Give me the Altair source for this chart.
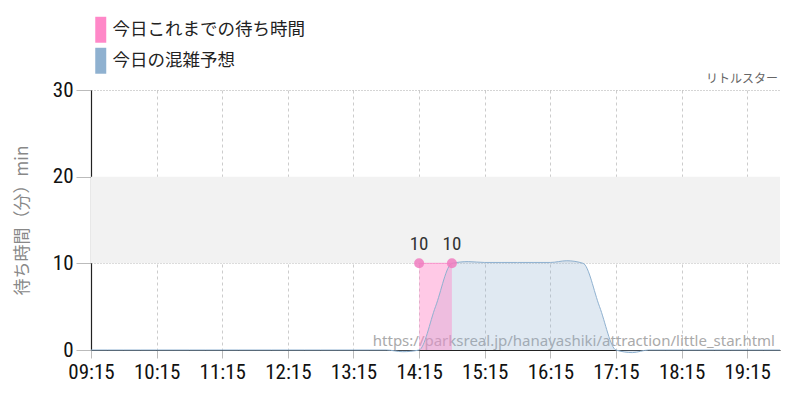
import altair as alt
import pandas as pd

DAY = "2024-01-01T"

legend_labels = ["今日これまでの待ち時間", "今日の混雑予想"]
legend_colors = ["#ff88c8", "#8fb1d0"]
fill_opacities = [0.45, 0.28]

actual_times = ["14:15", "14:45"]
actual_values = [10, 10]

forecast_times = ["09:15", "09:30", "09:45", "10:00", "10:15", "10:30", "10:45", "11:00",
                  "11:15", "11:30", "11:45", "12:00", "12:15", "12:30", "12:45", "13:00",
                  "13:15", "13:30", "13:45", "14:00", "14:15", "14:30", "14:45", "15:00",
                  "15:15", "15:30", "15:45", "16:00", "16:15", "16:30", "16:45", "17:00",
                  "17:15", "17:30", "17:45", "18:00", "18:15", "18:30", "18:45", "19:00",
                  "19:15", "19:30", "19:45"]
forecast_values = [0, 0, 0, 0, 0, 0, 0, 0,
                   0, 0, 0, 0, 0, 0, 0, 0,
                   0, 0, 0, -0.2, 0, 5, 10, 10.2,
                   10.1, 10.1, 10.1, 10.1, 10.1, 10.3, 10.0, 5,
                   0, -0.3, 0, 0, 0, 0, 0, 0,
                   0, 0, 0]

band_low = [10]
band_high = [20]

x_domain = ["09:15", "19:45"]
y_domain = [0, 30]
grid_times = ["09:15", "09:45", "10:15", "10:45", "11:15", "11:45", "12:15", "12:45",
              "13:15", "13:45", "14:15", "14:45", "15:15", "15:45", "16:15", "16:45",
              "17:15", "17:45", "18:15", "18:45", "19:15", "19:45"]
y_ticks = [0, 10, 20, 30]

panel_title = ["リトルスター"]
y_title = "待ち時間（分）min"
watermark = ["https://parksreal.jp/hanayashiki/attraction/little_star.html"]

NUM_FONT = "Roboto Condensed, Liberation Sans Narrow, DejaVu Sans Condensed, Roboto"
JP_FONT = "Noto Sans CJK JP"


def dt(t):
    h, m = t.split(":")
    return alt.DateTime(year=2024, month=1, date=1, hours=int(h), minutes=int(m))


actual_df = pd.DataFrame({
    "time": [DAY + t + ":00" for t in actual_times],
    "value": actual_values,
    "series": legend_labels[0],
})
forecast_df = pd.DataFrame({
    "time": [DAY + t + ":00" for t in forecast_times],
    "value": forecast_values,
    "series": legend_labels[1],
})
area_df = pd.concat([forecast_df, actual_df], ignore_index=True)
band_df = pd.DataFrame({"low": band_low, "high": band_high})
wm_df = pd.DataFrame({"time": [DAY + x_domain[1] + ":00"], "value": [y_domain[0]], "text": watermark})
title_df = pd.DataFrame({"time": [DAY + x_domain[1] + ":00"], "value": [y_domain[1]], "text": panel_title})

x_scale = alt.Scale(domain=[dt(x_domain[0]), dt(x_domain[1])])
y_scale = alt.Scale(domain=y_domain)

x_axis = alt.Axis(
    values=[dt(t) for t in grid_times],
    labelExpr="minutes(datum.value) == 15 ? timeFormat(datum.value, '%H:%M') : ''",
    grid=True, gridDash=[3, 3], gridColor="#cccccc", gridWidth=1,
    tickColor="#bbbbbb", tickSize=8,
    tickOpacity={"condition": {"test": "minutes(datum.value) == 15", "value": 1}, "value": 0},
    domainColor="#222222", domainWidth=1.2,
    labelFont=NUM_FONT, labelFontSize=21, labelColor="#111111", labelPadding=3,
    labelFlush=False, labelOverlap=False,
    title=None,
)
y_axis = alt.Axis(
    values=y_ticks,
    grid=True, gridDash=[1, 2], gridColor="#aaaaaa",
    tickColor="#bbbbbb", tickSize=15,
    domainColor="#222222", domainWidth=1.2,
    labelFont=NUM_FONT, labelFontSize=21, labelColor="#111111", labelPadding=3,
    title=y_title, titleFont=JP_FONT, titleFontSize=17, titleFontWeight="normal",
    titleColor="#888888", titlePadding=21,
)

band = alt.Chart(band_df).mark_rect(color="#f2f2f2").encode(
    y=alt.Y("low:Q", scale=y_scale, axis=y_axis),
    y2="high:Q",
)

wm = alt.Chart(wm_df).mark_text(
    align="right", baseline="bottom", dx=-5, dy=-1, font="Noto Sans", fontSize=15, color="#aaaaaa"
).encode(
    x=alt.X("time:T", scale=x_scale, axis=x_axis),
    y=alt.Y("value:Q", scale=y_scale),
    text="text:N",
)

ttl = alt.Chart(title_df).mark_text(
    align="right", baseline="bottom", dx=-2, dy=-4, font=JP_FONT, fontSize=12, color="#666666"
).encode(
    x=alt.X("time:T", scale=x_scale),
    y=alt.Y("value:Q", scale=y_scale),
    text="text:N",
)

areas = alt.Chart(area_df).mark_area(interpolate="monotone").encode(
    x=alt.X("time:T", scale=x_scale, axis=x_axis),
    y=alt.Y("value:Q", scale=y_scale, axis=y_axis, stack=None),
    color=alt.Color(
        "series:N",
        scale=alt.Scale(domain=legend_labels, range=legend_colors),
        sort=legend_labels,
        legend=alt.Legend(
            title=None, orient="none", legendX=1, legendY=-69,
            symbolType="M-1,-2.36L1,-2.36L1,2.36L-1,2.36Z", symbolSize=121,
            symbolOpacity=1, symbolStrokeWidth=0,
            labelFont=JP_FONT, labelFontSize=17.5, labelColor="#222222",
            labelOffset=3, labelLimit=400, rowPadding=4, padding=0,
        ),
    ),
    fillOpacity=alt.FillOpacity(
        "series:N", scale=alt.Scale(domain=legend_labels, range=fill_opacities), legend=None
    ),
)

fline = alt.Chart(forecast_df).mark_line(
    interpolate="monotone", color="#8fb1d0", strokeWidth=1
).encode(
    x=alt.X("time:T", scale=x_scale),
    y=alt.Y("value:Q", scale=y_scale),
)
aline = alt.Chart(actual_df).mark_line(color="#ff88c8", strokeWidth=1, opacity=0.8).encode(
    x=alt.X("time:T", scale=x_scale),
    y=alt.Y("value:Q", scale=y_scale),
)

pts = alt.Chart(actual_df).mark_circle(size=100, color="#f07cbf", opacity=0.85).encode(
    x=alt.X("time:T", scale=x_scale),
    y=alt.Y("value:Q", scale=y_scale),
)
lbls = alt.Chart(actual_df).mark_text(
    baseline="bottom", dy=-9, font=NUM_FONT, fontSize=19, color="#333333"
).encode(
    x=alt.X("time:T", scale=x_scale),
    y=alt.Y("value:Q", scale=y_scale),
    text=alt.Text("value:Q", format="d"),
)

chart = alt.layer(band, wm, ttl, areas, fline, aline, pts, lbls).properties(
    width=689, height=260,
    autosize=alt.AutoSizeParams(type="none"),
    padding={"left": 83, "top": 82, "right": 12, "bottom": 42},
).configure_view(stroke=None)

chart.save("out.html", embed_options={"renderer": "svg", "actions": False})
